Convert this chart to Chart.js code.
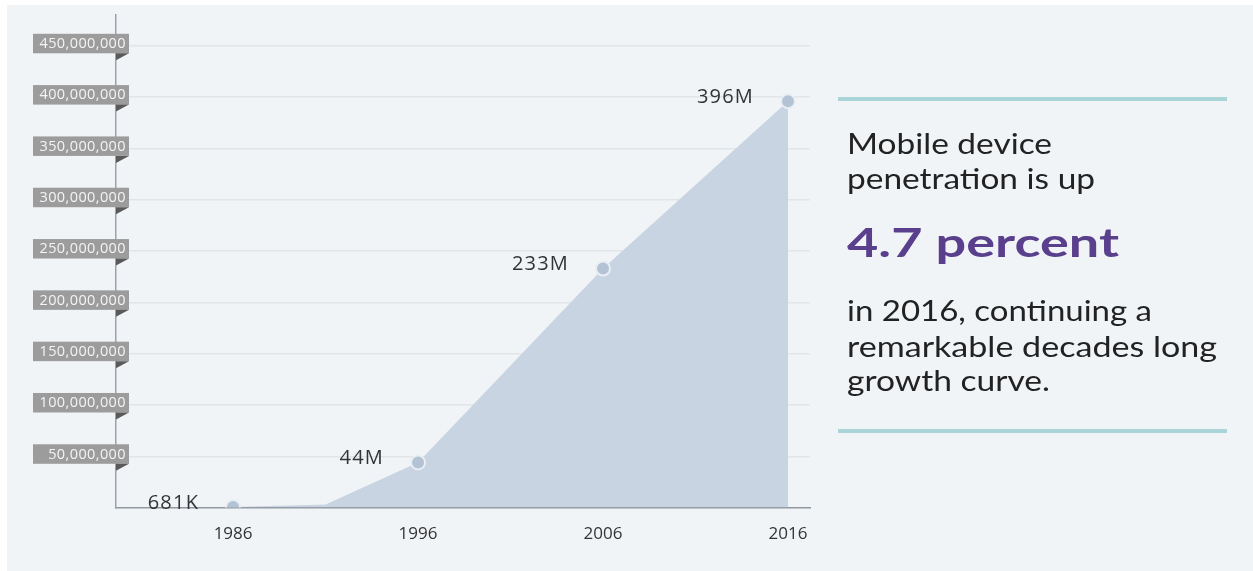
<!DOCTYPE html>
<html>
<head>
<meta charset="utf-8">
<script src="https://cdn.jsdelivr.net/npm/chart.js@4/dist/chart.umd.min.js"></script>
<style>
  html, body { margin: 0; padding: 0; background: #ffffff; }
  #wrap { position: relative; width: 1253px; height: 571px; overflow: hidden; }
  #panel { position: absolute; left: 7px; top: 5px; width: 1246px; height: 566px; background: #f1f4f7; }
  #chartBox { position: absolute; left: 0; top: 0; width: 1253px; height: 571px; }
  .rule { position: absolute; left: 838px; width: 389px; height: 4px; background: #a9d5d8; }
  .txt { position: absolute; left: 847px; font-family: Lato, "Open Sans", sans-serif; color: #222; white-space: nowrap; line-height: 1.2; transform-origin: 0 50%; }
  .t28 { font-size: 29px; }
  .big { font-size: 40px; font-weight: 700; color: #5a3f8c; }
</style>
</head>
<body>
<div id="wrap">
  <div id="panel"></div>
  <div id="chartBox"><canvas id="c" width="1253" height="571"></canvas></div>
  <div class="rule" style="top:97px"></div>
  <div class="txt t28" data-w="205" style="top:126px">Mobile device</div>
  <div class="txt t28" data-w="248" style="top:161px">penetration is up</div>
  <div class="txt big" data-w="272" style="top:218px">4.7 percent</div>
  <div class="txt t28" data-w="305" style="top:293px">in 2016, continuing a</div>
  <div class="txt t28" data-w="370" style="top:329px">remarkable decades long</div>
  <div class="txt t28" data-w="203" style="top:363px">growth curve.</div>
  <div class="rule" style="top:429px"></div>
</div>
<script>
// ---- data ----
const years = [1986, 1991, 1996, 2006, 2016];
const users = [681000, 3000000, 44000000, 233000000, 396000000];
const pointLabels = ['681K', '', '44M', '233M', '396M'];
const xTickYears = [1986, 1996, 2006, 2016];
const yTickValues = [50000000, 100000000, 150000000, 200000000, 250000000, 300000000, 350000000, 400000000, 450000000];

const points = years.map((y, i) => ({ x: y, y: users[i] }));
const radii = pointLabels.map(l => l ? 7 : 0);
const fmt = v => v.toLocaleString('en-US');

function fitText() {
  document.querySelectorAll('.txt').forEach(el => {
    const target = parseFloat(el.dataset.w);
    el.style.transform = 'none';
    const w = el.getBoundingClientRect().width;
    el.style.transform = 'scaleX(' + (target / w).toFixed(4) + ')';
  });
}

const yBoxPlugin = {
  id: 'yBoxes',
  afterDraw(chart) {
    const ctx = chart.ctx;
    const ys = chart.scales.y;
    const axisX = chart.chartArea.left;
    ctx.save();
    yTickValues.forEach(v => {
      const py = ys.getPixelForValue(v);
      const top = py - 12, h = 19.5, left = 33, right = axisX + 13;
      ctx.fillStyle = '#9c9c9c';
      ctx.fillRect(left, top, right - left, h);
      ctx.fillStyle = '#5a5a5a';
      ctx.beginPath();
      ctx.moveTo(axisX, top + h);
      ctx.lineTo(right, top + h);
      ctx.lineTo(axisX, top + h + 7);
      ctx.closePath();
      ctx.fill();
      ctx.fillStyle = '#f4f4f4';
      ctx.font = '14.5px "Open Sans", sans-serif';
      ctx.letterSpacing = '0.4px';
      ctx.textAlign = 'right';
      ctx.textBaseline = 'middle';
      ctx.fillText(fmt(v), right - 3, top + h / 2 + 0.5);
    });
    ctx.restore();
  }
};

const labelPlugin = {
  id: 'pointLabels',
  afterDatasetsDraw(chart) {
    const ctx = chart.ctx;
    const meta = chart.getDatasetMeta(0);
    ctx.save();
    ctx.font = '20px "Open Sans", sans-serif';
    ctx.letterSpacing = '1.2px';
    ctx.fillStyle = '#333333';
    ctx.textAlign = 'right';
    ctx.textBaseline = 'middle';
    meta.data.forEach((el, i) => {
      if (!pointLabels[i]) return;
      ctx.fillText(pointLabels[i], el.x - 34, el.y - 4);
    });
    ctx.restore();
  }
};

function draw() {
  fitText();
  new Chart(document.getElementById('c'), {
    type: 'line',
    data: {
      datasets: [{
        data: points,
        fill: 'origin',
        backgroundColor: '#c8d4e2',
        borderWidth: 0,
        borderColor: 'rgba(0,0,0,0)',
        tension: 0,
        pointRadius: radii,
        pointHoverRadius: radii,
        pointBackgroundColor: '#b3c3d4',
        pointBorderColor: '#e9eef4',
        pointBorderWidth: 2
      }]
    },
    options: {
      responsive: false,
      animation: false,
      events: [],
      layout: { padding: { left: 116, right: 443, top: 15, bottom: 11 } },
      plugins: { legend: { display: false }, tooltip: { enabled: false } },
      scales: {
        x: {
          type: 'linear',
          min: 1979.67,
          max: 2017.19,
          afterBuildTicks: s => { s.ticks = xTickYears.map(v => ({ value: v })); },
          ticks: {
            callback: v => String(v),
            color: '#333333',
            font: { family: '"Open Sans", sans-serif', size: 17 },
            padding: 16,
            maxRotation: 0,
            autoSkip: false
          },
          grid: { display: false, drawTicks: false },
          border: { display: true, color: '#8f979f', width: 1.5 }
        },
        y: {
          min: 0,
          max: 480000000,
          afterBuildTicks: s => { s.ticks = yTickValues.map(v => ({ value: v })); },
          ticks: { display: false },
          grid: { color: '#e1e5ea', lineWidth: 1.5, drawTicks: false },
          border: { display: true, color: '#9aa2aa', width: 1.5 }
        }
      }
    },
    plugins: [yBoxPlugin, labelPlugin]
  });
}

Promise.all([
  document.fonts.load('20px "Open Sans"'),
  document.fonts.load('29px Lato'),
  document.fonts.load('700 40px Lato')
]).then(draw, draw);
</script>
</body>
</html>
